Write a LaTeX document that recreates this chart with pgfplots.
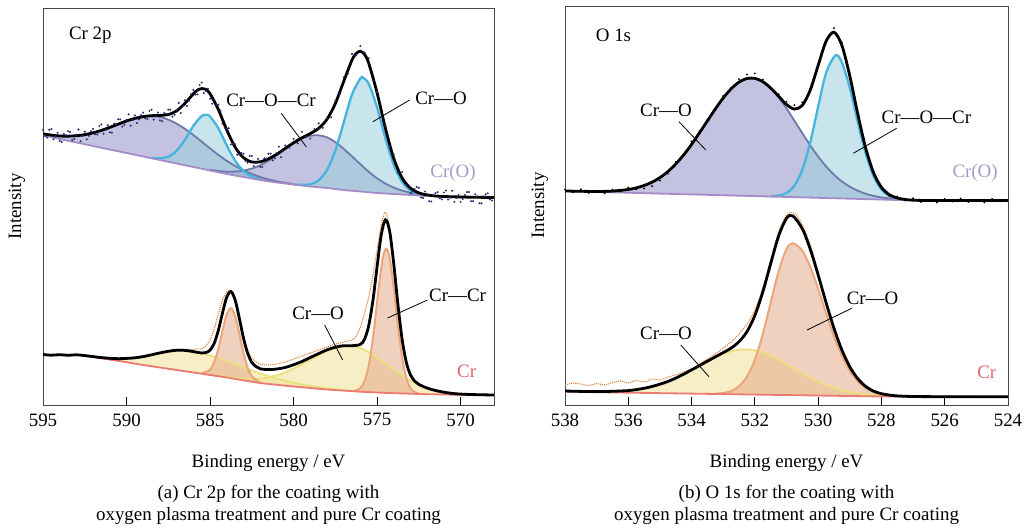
\documentclass[border=0pt]{standalone}
\usepackage{fontspec}
\setmainfont{Liberation Serif}
\usepackage{pgfplots}
\pgfplotsset{compat=1.18}
\usepackage{pgfplotstable}
\usepgfplotslibrary{fillbetween}

\definecolor{axisgray}{RGB}{70,70,70}
\definecolor{lavfill}{RGB}{145,145,200}
\definecolor{lavline}{RGB}{111,121,170}
\definecolor{bluefill}{RGB}{155,206,220}
\definecolor{blueline}{RGB}{69,180,222}
\definecolor{bgtop}{RGB}{165,140,200}
\definecolor{navydot}{RGB}{45,45,115}
\definecolor{yelfill}{RGB}{240,224,150}
\definecolor{yelline}{RGB}{235,224,122}
\definecolor{orfill}{RGB}{228,170,139}
\definecolor{orline}{RGB}{235,167,122}
\definecolor{bgbot}{RGB}{235,122,112}
\definecolor{rawor}{RGB}{225,130,60}
\definecolor{crotext}{RGB}{165,155,200}
\definecolor{crtext}{RGB}{225,100,110}

\newcommand{\fs}{\fontsize{19}{22}\selectfont}

% ---------------- Cr 2p, Cr(O) (top) ----------------
\pgfplotstableread{
x c b
595 271.1 270
594.5 269.9 268
594 269.0 266
593.5 268.8 264.2
593 269.3 262.5
592.5 270.3 260.7
592 272.2 259
591.5 274.6 257.2
591 277.6 255.5
590.5 280.8 253.7
590 284.0 252
589.5 286.6 250.2
589 288.4 248.5
588.5 288.9 246.7
588 288.0 245
587.5 285.4 243.2
587 281.4 241.5
586.5 276.1 239.7
586 270.0 238
585.5 263.3 236.2
585 256.6 234.5
584.5 250.1 232.7
584 244.2 231
583.5 239.1 229.5
583 234.8 228
582.5 231.1 226.5
582 228.0 225
581.5 225.6 223.7
581 223.6 222.5
580.5 222.2 221.5
580 220.9 220.5
}\tlPone
\pgfplotstableread{
x c b
588.5 247.1 246.7
588 246.6 245
587.5 248.2 243.2
587 254.2 241.5
586.5 265.3 239.7
586 279.1 238
585.5 289.0 236.2
585.2 290.2 235.2
585 288.5 234.5
584.5 276.7 232.7
584 259.6 231
583.5 244.3 229.5
583 234.1 228
582.5 228.5 226.5
582 225.5 225
}\tlBone
\pgfplotstableread{
x c b
585 235.2 234.5
584.5 234.0 232.7
584 233.3 231
583.5 233.4 229.5
583 234.4 228
582.5 236.4 226.5
582 239.7 225
581.5 244.2 223.7
581 249.8 222.5
580.5 255.9 221.5
580 261.7 220.5
579.5 266.4 219.5
579 269.2 218.5
578.5 269.7 217.7
578 267.7 217
577.5 262.9 216
577 256.2 215
576.5 248.6 214.2
576 240.8 213.5
575.5 233.2 212.7
575 226.7 212
574.5 221.4 211.5
574 217.4 211
573.5 214.4 210.5
573 212.3 210
572.5 210.8 209.5
572 209.7 209
}\tlPtwo
\pgfplotstableread{
x c b
580 220.6 220.5
579.5 220.1 219.5
579 220.7 218.5
578.5 224.6 217.7
578 235.0 217
577.5 254.5 216
577 282.3 215
576.5 310.6 214.2
576 326.5 213.5
575.85 327.3 213.3
575.5 321.3 212.7
575 297.5 212
574.5 266.7 211.5
574 240.1 211
573.5 223.1 210.5
573 214.5 210
572.5 210.8 209.5
572 209.3 209
}\tlBtwo
\pgfplotstableread{
x y
595 270
594 266
593 262.5
592 259
591 255.5
590 252
589 248.5
588 245
587 241.5
586 238
585 234.5
584 231
583 228
582 225
581 222.5
580 220.5
579 218.5
578 217
577 215
576 213.5
575 212
574 211
573 210
572 209
}\tlBg
\pgfplotstableread{
x y
595 271.1
594.5 269.9
594 269.0
593.5 268.8
593 269.3
592.5 270.3
592 272.2
591.5 274.6
591 277.6
590.5 280.8
590 284.0
589.5 286.6
589 288.4
588.5 289.3
588 289.6
587.5 290.4
587 294.1
586.5 301.7
586 311.1
585.75 314.9
585.5 316.4
585.25 315.5
585 311.3
584.5 295.4
584 275.1
583.5 257.8
583 247.3
582.5 243.0
582 243.2
581.5 246.2
581 250.9
580.5 256.6
580 262.2
579.5 267.2
579 271.4
578.5 276.6
578 285.7
577.5 301.4
577 323.5
576.5 345.0
576.25 351.5
576 353.8
575.75 350.6
575.5 341.8
575 312.2
574.5 276.6
574 246.5
573.5 227.0
573 216.8
572.5 212.1
572 210.0
571.5 209.0
571 208.5
570 208.0
569 207.7
568 207.5
}\tlEnv

% ---------------- Cr 2p, Cr (bottom) ----------------
\pgfplotstableread{
x c b
592.5 49.4 49.2
592 48.4 48.0
591.5 47.4 46.7
591 46.7 45.4
590.5 46.3 44.0
590 46.6 42.8
589.5 47.2 41.4
589 48.4 40.0
588.5 50.2 38.7
588 52.1 37.5
587.5 53.7 36.2
587 54.8 35.0
586.5 54.6 33.7
586 53.4 32.5
585.5 51.6 31.2
585 49.5 30.0
584.5 46.9 28.7
584 44.2 27.5
583.5 41.1 26.1
583 37.8 24.7
582.5 34.6 23.3
582 31.4 22.0
581.5 28.8 21.1
581 26.4 20.2
580.5 24.2 19.3
580 22.3 18.5
579.5 20.5 17.7
579 19.1 17.0
578.5 17.7 16.2
578 16.6 15.5
577.5 15.6 14.9
577 14.9 14.4
576.5 14.1 13.8
576 13.5 13.3
}\blYone
\pgfplotstableread{
x c b
585.5 31.6 31.2
585 35.3 30.0
584.75 42.8 29.4
584.5 56.3 28.7
584.25 74.4 28.1
584 90.6 27.5
583.75 96.8 26.8
583.5 89.2 26.1
583.25 71.7 25.4
583 52.3 24.7
582.75 37.4 24.0
582.5 28.6 23.3
582 22.4 22.0
}\blOone
\pgfplotstableread{
x c b
584.5 29.0 28.7
584 28.1 27.5
583.5 27.1 26.1
583 26.4 24.7
582.5 26.1 23.3
582 26.4 22.0
581.5 27.7 21.1
581 29.8 20.2
580.5 32.6 19.3
580 36.4 18.5
579.5 40.7 17.7
579 45.4 17.0
578.5 49.9 16.2
578 54.0 15.5
577.5 57.1 14.9
577 58.8 14.4
576.6 58.9 13.9
576 56.8 13.3
575.5 53.0 12.9
575 47.8 12.5
574.5 41.8 12.1
574 35.5 11.8
573.5 29.7 11.5
573 24.5 11.3
572.5 20.2 11.0
572 16.9 10.8
571.5 14.5 10.6
571 12.8 10.5
570.5 11.6 10.3
570 10.9 10.2
569.5 10.5 10.1
569 10.3 10.1
}\blYtwo
\pgfplotstableread{
x c b
576.4 14.1 13.7
576.15 15.2 13.5
575.9 18.8 13.2
575.65 28.7 13.0
575.4 48.7 12.8
575.15 80.3 12.6
574.9 117.8 12.4
574.65 147.6 12.2
574.45 156.1 12.1
574.25 147.3 11.9
574 117.2 11.8
573.75 79.3 11.6
573.5 47.4 11.5
573.25 27.1 11.4
573 16.9 11.3
572.75 12.8 11.1
572.5 11.4 11.0
}\blOtwo
\pgfplotstableread{
x y
592.4 49
592 48.0
591 45.4
590 42.8
589 40.0
588 37.5
587 35.0
586 32.5
585 30.0
584 27.5
583 24.7
582 22.0
581 20.2
580 18.5
579 17.0
578 15.5
577 14.4
576 13.3
575 12.5
574 11.8
573 11.3
572 10.8
571 10.5
570 10.2
569 10.1
568 10.0
}\blBg
\pgfplotstableread{
x y
595 50.5
594.5 49.8
594 50.3
593.5 49.7
593 50.2
592.5 49.4
592 48.4
591.5 47.4
591 46.7
590.5 46.3
590 46.6
589.5 47.2
589 48.4
588.5 50.2
588 52.1
587.5 53.7
587 54.8
586.5 54.6
586 53.4
585.5 52.0
585.25 52.4
585 54.8
584.75 61.7
584.5 74.8
584.25 92.3
584 107.9
583.75 113.5
583.5 105.2
583.25 87.1
583 67.1
582.75 51.8
582.5 42.7
582.25 38.5
582 36.2
581.5 35.4
581 36.0
580.5 37.5
580 40.2
579.5 43.5
579 47.5
578.5 51.4
578 55.1
577.5 57.8
577 59.3
576.5 59.3
576 60.6
575.75 65.8
575.5 79.4
575.25 104.3
575 138.2
574.75 170.2
574.5 185.2
574.25 174.0
574 140.9
573.75 100.2
573.5 65.6
573.25 42.7
573 30.1
572.75 23.9
572.5 20.6
572 16.9
571.5 14.5
571 12.8
570.5 11.6
570 10.9
569 10.3
568 10.0
}\blEnv
\pgfplotstableread{
x y
587 55.5
586.5 55.5
586 55.5
585.75 56
585.5 56
585.25 59
585 65
584.75 76
584.5 91
584.25 105
584 113
583.75 114
583.5 104
583.25 86
583 68
582.75 55
582.5 47
582.25 43
582 41
581.5 40
581 41
580.5 43
580 46
579.5 49
579 52
578.5 55
578 58
577.5 61
577 63
576.5 65
576.25 69
576 78
575.75 92
575.5 108
575.25 130
575 155
574.75 180
574.5 193
574.25 178
574 142
573.75 100
573.5 66
573.25 43
573 30
572.5 21
572 17
571 13
570 11
568.5 10.5
}\blRaw

% ---------------- O 1s, Cr(O) (top) ----------------
\pgfplotstableread{
x c b
538 214.0 214.0
537.5 213.7 213.6
537 213.5 213.1
536.5 213.9 212.7
536 215.5 212.3
535.75 217.1 212.1
535.5 219.5 211.9
535.25 222.8 211.6
535 227.4 211.4
534.75 233.4 211.2
534.5 241.0 211.0
534.25 250.1 210.8
534 260.6 210.6
533.75 272.2 210.4
533.5 284.1 210.1
533.25 296.0 209.9
533 307.0 209.7
532.75 316.2 209.5
532.5 322.9 209.3
532.25 326.5 209.1
532 326.6 208.9
531.75 323.2 208.6
531.5 316.7 208.4
531.25 307.6 208.2
531 296.5 208.0
530.75 284.3 207.8
530.5 271.8 207.6
530.25 259.7 207.4
530 248.4 207.1
529.75 238.6 206.9
529.5 230.3 206.7
529.25 223.6 206.5
529 218.3 206.3
528.75 214.3 206.1
528.5 211.3 205.9
528.25 209.1 205.6
528 207.6 205.4
527.75 206.5 205.2
527.5 205.8 205.0
527.25 205.2 204.8
527 204.8 204.6
}\trPb
\pgfplotstableread{
x c b
531.5 208.7 208.4
531.25 209.4 208.2
531 212.0 208.0
530.75 219.4 207.8
530.5 235.4 207.6
530.25 262.6 207.4
530 298.3 207.1
529.75 332.0 206.9
529.45 349.7 206.7
529.25 342.5 206.5
529 317.1 206.3
528.75 283.2 206.1
528.5 251.8 205.9
528.25 228.9 205.6
528 215.5 205.4
527.75 209.0 205.2
527.5 206.2 205.0
527.25 205.1 204.8
}\trBo
\pgfplotstableread{
x y
538 214.0
535 211.4
532 208.9
529 206.3
527.5 205.0
524 204.5
}\trBg
\pgfplotstableread{
x y
538 214.0
537.5 213.7
537 213.5
536.5 213.9
536 215.5
535.75 217.1
535.5 219.5
535.25 222.8
535 227.4
534.75 233.4
534.5 241.0
534.25 250.1
534 260.6
533.75 272.2
533.5 284.1
533.25 296.0
533 307.0
532.75 316.2
532.5 322.9
532.25 326.5
532 326.6
531.75 323.3
531.5 317.0
531.25 308.8
531 300.5
530.75 295.9
530.5 299.6
530.25 314.9
530 339.6
529.75 363.7
529.5 372.8
529.25 359.6
529 329.1
528.75 291.4
528.5 257.2
528.25 232.4
528 217.7
527.75 210.3
527.5 207.0
527.25 205.5
527 204.8
526.5 204.5
525 204.5
524 204.5
}\trEnv

% ---------------- O 1s, Cr (bottom) ----------------
\pgfplotstableread{
x c b
537 13.1 12.8
536.5 13.5 12.6
536 14.4 12.3
535.75 15.4 12.2
535.5 16.7 12.1
535.25 18.5 12.0
535 20.8 11.9
534.75 23.5 11.7
534.5 26.9 11.6
534.25 30.8 11.5
534 35.1 11.4
533.75 39.4 11.2
533.5 43.8 11.1
533.25 47.8 11.0
533 51.3 10.9
532.75 53.8 10.8
532.5 55.3 10.7
532.25 55.5 10.5
532 54.6 10.4
531.75 52.4 10.3
531.5 49.2 10.2
531.25 45.3 10.1
531 40.8 9.9
530.75 36.2 9.8
530.5 31.6 9.7
530.25 27.3 9.6
530 23.4 9.5
529.75 19.9 9.3
529.5 17.1 9.2
529.25 14.8 9.1
529 13.0 9.0
528.75 11.6 8.9
528.5 10.5 8.7
528 9.3 8.5
527.5 8.7 8.4
}\brYb
\pgfplotstableread{
x c b
533.25 11.3 11.0
533 12.0 10.9
532.75 13.9 10.8
532.5 18.7 10.7
532.25 28.3 10.5
532 45.3 10.4
531.75 70.8 10.3
531.5 102.4 10.2
531.25 133.7 10.1
531 155.8 9.9
530.8 161.8 9.8
530.5 154.3 9.7
530.25 138.2 9.6
530 116.1 9.5
529.75 91.8 9.3
529.5 68.8 9.2
529.25 49.3 9.1
529 34.2 9.0
528.75 23.7 8.9
528.5 16.8 8.7
528.25 12.7 8.6
528 10.5 8.5
527.75 9.4 8.45
527.5 8.8 8.4
}\brOb
\pgfplotstableread{
x y
538 13.3
533 10.9
528 8.5
524 8.3
}\brBg
\pgfplotstableread{
x y
538 14.0
537.5 13.6
537 13.4
536.5 13.7
536 14.4
535.75 15.4
535.5 16.7
535.25 18.5
535 20.8
534.75 23.5
534.5 26.9
534.25 30.8
534 35.1
533.75 39.4
533.5 43.8
533.25 48.1
533 52.4
532.75 56.9
532.5 63.3
532.25 73.3
532 89.5
531.75 112.9
531.5 141.4
531.25 168.9
531 186.7
530.8 189.1
530.5 176.2
530.25 155.9
530 130.0
529.75 102.4
529.5 76.7
529.25 55.0
529 38.2
528.75 26.4
528.5 18.6
528.25 13.9
528 11.3
527.75 9.9
527.5 9.1
527 8.5
526 8.3
524 8.3
}\brEnv
\pgfplotstableread{
x y
538 20
537.75 22
537.5 21
537.25 19.5
537 21.5
536.75 20
536.5 22.5
536.25 24
536 22
535.75 24.5
535.5 23
535.25 26
535 25
534.75 28
534.5 30
534.25 33
534 36
533.75 41
533.5 46
533.25 51
533 57
532.75 63
532.5 71
532.25 81
532 95
531.75 117
531.5 145
531.25 173
531 190
530.75 192
530.5 180
530.25 160
530 133
529.75 104
529.5 78
529.25 56
529 39
528.75 27
528.5 19
528.25 14
528 11.5
527.5 9.5
527 8.8
526 8.6
525 8.4
524 8.3
}\brRaw

\pgfplotsset{
  xps/.style={
    scale only axis, x dir=reverse, ytick=\empty,
    xtick pos=left, tick align=inside,
    major tick length=8bp,
    tick style={black, line width=0.8bp},
    axis line style={draw=axisgray, line width=0.9bp},
    tick label style={font=\fs},
    label style={font=\fs},
    xticklabel style={yshift=-2bp},
    /pgf/number format/assume math mode=true,
    /pgf/number format/1000 sep={},
    xlabel={Binding energy / eV},
    ylabel={Intensity},
    ymin=0,
    anchor=south west,
  },
}

% component: #1 table, #2 fill colour, #3 path name
\newcommand{\compfill}[3]{%
  \addplot[draw=none, smooth, name path=#3c] table[x=x,y=c]{#1};
  \addplot[draw=none, smooth, name path=#3b] table[x=x,y=b]{#1};
  \addplot[fill=#2, fill opacity=0.55, draw=none] fill between[of=#3c and #3b];
}

\begin{document}
\fs
\begin{tikzpicture}[font=\fs]

% ================= left panel =================
\begin{axis}[xps, at={(43bp,126bp)}, width=451bp, height=397bp,
  xmin=568, xmax=595, ymax=397, xtick={570,575,...,595},
  xlabel style={at={(axis description cs:0.5,-0.146)}, anchor=center},
  ylabel style={at={(axis description cs:-0.0576,0.5)}, anchor=center}]
  % top fills
  \compfill{\tlPone}{lavfill}{tpa}
  \compfill{\tlPtwo}{lavfill}{tpb}
  \compfill{\tlBone}{bluefill}{tba}
  \compfill{\tlBtwo}{bluefill}{tbb}
  \addplot[lavline, line width=1.8bp, smooth] table[x=x,y=c]{\tlPone};
  \addplot[lavline, line width=1.8bp, smooth] table[x=x,y=c]{\tlPtwo};
  \addplot[blueline, line width=2.3bp, smooth] table[x=x,y=c]{\tlBone};
  \addplot[blueline, line width=2.3bp, smooth] table[x=x,y=c]{\tlBtwo};
  \addplot[bgtop, line width=1.8bp, smooth] table[x=x,y=y]{\tlBg};
  % bottom fills
  \compfill{\blYone}{yelfill}{bya}
  \compfill{\blYtwo}{yelfill}{byb}
  \compfill{\blOone}{orfill}{boa}
  \compfill{\blOtwo}{orfill}{bob}
  \addplot[yelline, line width=1.8bp, smooth] table[x=x,y=c]{\blYone};
  \addplot[yelline, line width=1.8bp, smooth] table[x=x,y=c]{\blYtwo};
  \addplot[orline, line width=2bp, smooth] table[x=x,y=c]{\blOone};
  \addplot[orline, line width=2bp, smooth] table[x=x,y=c]{\blOtwo};
  \addplot[bgbot, line width=1.8bp, smooth] table[x=x,y=y]{\blBg};
  \addplot[rawor, line width=1.1bp, densely dotted, smooth] table[x=x,y=y]{\blRaw};
  % envelopes
  \addplot[black, line width=2.8bp, smooth] table[x=x,y=y]{\tlEnv};
  \addplot[black, line width=2.8bp, smooth] table[x=x,y=y]{\blEnv};
  % raw data points (top)
  \addplot[only marks, mark=*, mark size=0.8bp, navydot] coordinates {
  (595,275.1) (594.75,267.5) (594.5,275.9) (594.25,268.5) (594,264.0) (593.75,270.9) (593.5,273.8) (593.25,265.0) (593,270.3) (592.75,263.8) (592.5,273.3) (592.25,269.2) (592,276.2) (591.75,270.4) (591.5,280.6) (591.25,275.1) (591,272.6) (590.75,281.2) (590.5,285.8) (590.25,278.4) (590,285.0) (589.75,279.3) (589.5,289.6) (589.25,285.5) (589,292.4) (588.75,285.9) (588.5,295.3) (588.25,288.5) (588,284.6) (587.75,292.0) (587.5,295.4) (587.25,288.3) (587,295.1) (586.75,291.9) (586.5,304.7) (586.25,304.4) (586,315.1) (585.75,310.6) (585.5,322.4) (585.25,314.0) (585,306.3) (584.75,305.4) (584.5,300.4) (584.25,281.3) (584,276.1) (583.75,260.5) (583.5,260.8) (583.25,250.6) (583,251.3) (582.75,242.2) (582.5,249.0) (582.25,242.1) (582,238.2) (581.75,246.7) (581.5,251.2) (581.25,244.6) (581,251.9) (580.75,247.8) (580.5,259.6) (580.25,257.4) (580,266.2) (579.75,261.7) (579.5,273.2) (579.25,268.3) (579,266.4) (578.75,276.0) (578.5,281.6) (578.25,277.2) (578,286.7) (577.75,287.6) (577.5,304.4) (577.25,310.5) (577,327.5) (576.75,331.3) (576.5,351.0) (576.25,350.0) (576,358.8) (575.75,352.6) (575.5,346.8) (575.25,324.5) (575,313.2) (574.75,288.3) (574.5,279.6) (574.25,258.4) (574,250.5) (573.75,232.3) (573.5,233.0) (573.25,219.9) (573,211.8) (572.75,216.0) (572.5,217.1) (572.25,207.0) (572,211.0) (571.75,203.5) (571.5,212.0) (571.25,206.7) (571,212.5) (570.75,205.4) (570.5,214.2) (570.25,207.1) (570,203.0) (569.75,210.0) (569.5,212.9) (569.25,203.8) (569,208.7) (568.75,201.7) (568.5,210.6) (568.25,205.6)
  (594.875,268.8) (594.625,275.2) (594.375,265.7) (594.125,272.2) (593.875,262.9) (593.625,269.8) (593.375,272.9) (593.125,266.1) (592.875,275.5) (592.625,269.0) (592.375,265.7) (592.125,273.7) (591.875,270.8) (591.625,279.0) (591.375,271.3) (591.125,279.8) (590.875,272.4) (590.625,281.0) (590.375,285.6) (590.125,280.2) (589.875,290.6) (589.625,284.9) (589.375,282.0) (589.125,289.9) (588.875,286.6) (588.625,294.1) (588.375,285.4) (588.125,292.5) (587.875,283.8) (587.625,291.2) (587.375,295.3) (587.125,290.2) (586.875,302.0) (586.625,298.8) (586.375,299.0) (586.125,310.7) (585.875,310.4) (585.625,320.0) (585.375,312.0) (585.125,316.3) (584.875,301.3) (584.625,300.4) (584.375,294.3) (584.125,277.2) (583.875,276.8) (583.625,261.1) (583.375,250.2) (583.125,252.0) (582.875,244.2) (582.625,249.1) (582.375,239.0) (582.125,246.1) (581.875,237.9) (581.625,246.4) (581.375,251.4) (581.125,246.7) (580.875,258.3) (580.625,254.2)
  (572.875,213.4) (572.625,218.0) (572.375,207.5) (572.125,213.5) (571.875,203.7) (571.625,210.2) (571.375,212.8) (571.125,205.6) (570.875,214.4) (570.625,207.3) (570.375,203.2) (570.125,210.0) (569.875,206.0) (569.625,212.9) (569.375,203.8) (569.125,210.7) (568.875,201.7) (568.625,208.6) (568.375,211.6) (568.125,204.5)
  };
  % annotations
  \node[anchor=west] at (axis cs:593.83,370) {Cr 2p};
  \node at (axis cs:581.35,305) {Cr—O—Cr};
  \draw[black, line width=0.8bp] (axis cs:580.74,291.7) -- (axis cs:579.24,258.3);
  \node at (axis cs:571.17,307) {Cr—O};
  \draw[black, line width=0.8bp] (axis cs:573.05,305) -- (axis cs:575.25,283.3);
  \node[text=crotext] at (axis cs:570.45,232) {Cr(O)};
  \node at (axis cs:578.53,92) {Cr—O};
  \draw[black, line width=0.8bp] (axis cs:578.14,80) -- (axis cs:577.06,45);
  \node at (axis cs:570.18,110) {Cr—Cr};
  \draw[black, line width=0.8bp] (axis cs:571.98,105) -- (axis cs:574.37,87);
  \node[text=crtext] at (axis cs:569.64,34) {Cr};
\end{axis}

% ================= right panel =================
\begin{axis}[xps, at={(565bp,126bp)}, width=443bp, height=399bp,
  xmin=524, xmax=538, ymax=399, xtick={524,526,...,538},
  xlabel style={at={(axis description cs:0.5,-0.1454)}, anchor=center},
  ylabel style={at={(axis description cs:-0.0564,0.5)}, anchor=center}]
  \compfill{\trPb}{lavfill}{rpa}
  \compfill{\trBo}{bluefill}{rba}
  \addplot[lavline, line width=1.8bp, smooth] table[x=x,y=c]{\trPb};
  \addplot[blueline, line width=2.3bp, smooth] table[x=x,y=c]{\trBo};
  \addplot[bgtop, line width=1.8bp] table[x=x,y=y]{\trBg};
  \compfill{\brYb}{yelfill}{rya}
  \compfill{\brOb}{orfill}{roa}
  \addplot[yelline, line width=1.8bp, smooth] table[x=x,y=c]{\brYb};
  \addplot[orline, line width=2bp, smooth] table[x=x,y=c]{\brOb};
  \addplot[bgbot, line width=1.8bp] table[x=x,y=y]{\brBg};
  \addplot[rawor, line width=1.1bp, densely dotted, smooth] table[x=x,y=y]{\brRaw};
  \addplot[black, line width=2.8bp, smooth] table[x=x,y=y]{\trEnv};
  \addplot[black, line width=2.8bp, smooth] table[x=x,y=y]{\brEnv};
  \addplot[only marks, mark=*, mark size=0.7bp, black] coordinates {
  (538,215.5) (537.75,212.8) (537.5,215.7) (537.25,212.1) (537,214.0) (536.75,211.6) (536.5,215.4) (536.25,213.5) (536,217.5) (535.75,215.6) (535.5,216.5) (535.25,218.8) (535,224.4) (534.75,231.4) (534.5,243.0) (534.25,249.1) (534,263.6) (533.75,274.2) (533.5,285.1) (533.25,295.0) (533,309.0) (532.75,317.2) (532.5,325.9) (532.25,330.5) (532,331.6) (531.75,325.3) (531.5,316.0) (531.25,310.8) (531,303.5) (530.75,299.9) (530.5,302.6) (530.25,315.9) (530,337.6) (529.75,364.7) (529.5,376.8) (529.25,362.6) (529,331.1) (528.75,292.4) (528.5,256.2) (528.25,233.4) (528,218.2) (527.75,209.3) (527.5,208.5) (527.25,204.5) (527,206.8) (526.75,203.0) (526.5,205.0) (526.25,202.5) (526,206.0) (525.75,203.5) (525.5,206.5) (525.25,203.0) (525,205.0) (524.75,202.5) (524.5,206.0) (524.25,203.5)
  };
  \node[anchor=west] at (axis cs:537.23,370) {O 1s};
  \node at (axis cs:534.81,295) {Cr—O};
  \draw[black, line width=0.8bp] (axis cs:534.40,283.3) -- (axis cs:533.55,255);
  \node at (axis cs:526.58,288) {Cr—O—Cr};
  \draw[black, line width=0.8bp] (axis cs:527.52,276.7) -- (axis cs:528.89,251.7);
  \node[text=crotext] at (axis cs:525.04,232) {Cr(O)};
  \node at (axis cs:528.28,107) {Cr—O};
  \draw[black, line width=0.8bp] (axis cs:528.94,96.7) -- (axis cs:530.35,75);
  \node at (axis cs:534.81,72) {Cr—O};
  \draw[black, line width=0.8bp] (axis cs:534.34,60) -- (axis cs:533.45,28.3);
  \node[text=crtext] at (axis cs:524.67,33) {Cr};
\end{axis}

% captions
\node at (268.5bp,37bp) {(a) Cr 2p for the coating with};
\node at (268.5bp,15bp) {oxygen plasma treatment and pure Cr coating};
\node at (786.5bp,37bp) {(b) O 1s for the coating with};
\node at (786.5bp,15bp) {oxygen plasma treatment and pure Cr coating};

\pgfresetboundingbox
\path[use as bounding box] (0,0) rectangle (1027bp,531bp);
\end{tikzpicture}
\end{document}
